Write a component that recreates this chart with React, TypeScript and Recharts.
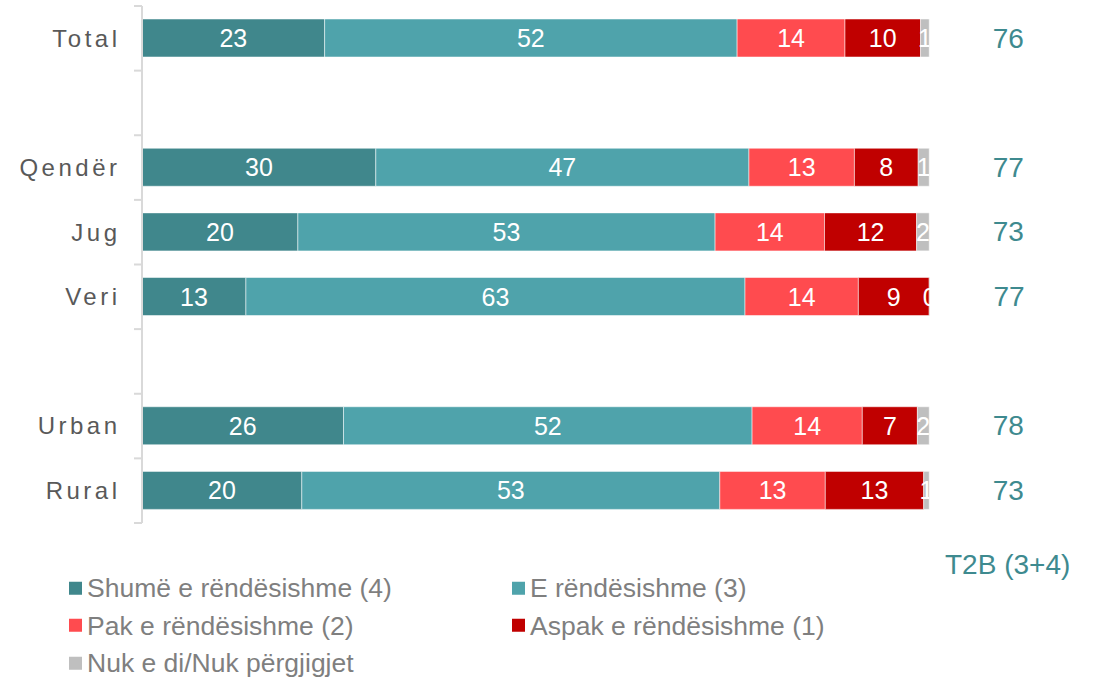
import React from "react";
import { BarChart, Bar, XAxis, YAxis, LabelList } from "recharts";

const categories = ["Total", " ", "Qendër", "Jug", "Veri", "  ", "Urban", "Rural"];
const shume = [23.2, null, 29.7, 19.8, 13.2, null, 25.6, 20.3];
const eRend = [52.4, null, 47.4, 53.0, 63.4, null, 51.9, 53.1];
const pak = [13.7, null, 13.4, 13.9, 14.4, null, 14.0, 13.4];
const aspak = [9.6, null, 8.1, 11.7, 9.0, null, 7.0, 12.5];
const nukDi = [1.1, null, 1.4, 1.6, 0.1, null, 1.5, 0.7];
const t2b = [76, null, 77, 73, 77, null, 78, 73];

const seriesNames = [
  "Shumë e rëndësishme (4)",
  "E rëndësishme (3)",
  "Pak e rëndësishme (2)",
  "Aspak e rëndësishme (1)",
  "Nuk e di/Nuk përgjigjet",
];
const seriesKeys = ["shume", "eRend", "pak", "aspak", "nukDi"];
const colors = ["#40878c", "#4fa3ab", "#ff4b4f", "#c00000", "#bfbfbf"];

const data = categories.map((name, i) => ({
  name,
  shume: shume[i],
  eRend: eRend[i],
  pak: pak[i],
  aspak: aspak[i],
  nukDi: nukDi[i],
  t2b: t2b[i],
}));

const FONT = "'Liberation Sans', Arial, sans-serif";
const W = 1101;
const H = 678;
const MARGIN = { top: 6, right: 171, bottom: 155, left: 0 };
const BAND = (H - MARGIN.top - MARGIN.bottom) / categories.length;

function CatTick(props: any) {
  const { x, y, payload, index } = props;
  const last = index === categories.length - 1;
  return (
    <g>
      <line x1={x - 8} x2={x} y1={y - BAND / 2} y2={y - BAND / 2} stroke="#d9d9d9" strokeWidth={2} />
      {last && (
        <line x1={x - 8} x2={x} y1={y + BAND / 2} y2={y + BAND / 2} stroke="#d9d9d9" strokeWidth={2} />
      )}
      <text
        x={x}
        y={y}
        dx={-21.5}
        dy="0.35em"
        textAnchor="end"
        fill="#595959"
        fontSize={24}
        letterSpacing={3.5}
        fontFamily={FONT}
      >
        {payload.value}
      </text>
    </g>
  );
}

const valueLabel = (clip: boolean) => (props: any) => {
  const { x, y, width, height, value, index } = props;
  if (value == null || isNaN(x)) return null;
  const txt = (
    <text
      x={x + width / 2}
      y={y + height / 2}
      textAnchor="middle"
      dominantBaseline="central"
      fill="#ffffff"
      fontSize={25}
      fontFamily={FONT}
    >
      {Math.round(value)}
    </text>
  );
  if (!clip) return txt;
  const id = `nk-clip-${index}`;
  return (
    <g>
      <defs>
        <clipPath id={id}>
          <rect x={x - 30} y={y} width={width + 30} height={height} />
        </clipPath>
      </defs>
      <g clipPath={`url(#${id})`}>{txt}</g>
    </g>
  );
};

function T2bLabel(props: any) {
  const { x, y, width, height, value } = props;
  if (value == null || isNaN(x)) return null;
  return (
    <text
      x={x + width + 79}
      y={y + height / 2}
      textAnchor="middle"
      dominantBaseline="central"
      fill="#3e8a8f"
      fontSize={28}
      fontFamily={FONT}
    >
      {value}
    </text>
  );
}

export default function App() {
  return (
    <div
      style={{
        position: "absolute",
        left: 0,
        top: 0,
        width: W,
        height: H,
        background: "#ffffff",
        fontFamily: FONT,
      }}
    >
      <BarChart
        width={W}
        height={H}
        data={data}
        layout="vertical"
        margin={MARGIN}
        barSize={38}
      >
        <XAxis type="number" domain={[0, 100]} hide />
        <YAxis
          type="category"
          dataKey="name"
          width={142}
          interval={0}
          axisLine={{ stroke: "#d9d9d9", strokeWidth: 2 }}
          tickLine={false}
          tickSize={0}
          tickMargin={0}
          tick={<CatTick />}
        />
        {seriesKeys.map((k, i) => (
          <Bar
            key={k}
            dataKey={k}
            name={seriesNames[i]}
            stackId="a"
            fill={colors[i]}
            stroke="#ffffff"
            strokeOpacity={0.5}
            strokeWidth={1}
            isAnimationActive={false}
          >
            <LabelList dataKey={k} content={valueLabel(i === 4)} />
            {i === 4 && <LabelList dataKey="t2b" content={<T2bLabel />} />}
          </Bar>
        ))}
      </BarChart>

      <div
        style={{
          position: "absolute",
          left: 945,
          top: 565,
          transform: "translateY(-50%)",
          fontSize: 28,
          color: "#3e8a8f",
          lineHeight: 1,
          whiteSpace: "nowrap",
        }}
      >
        T2B (3+4)
      </div>

      {seriesNames.map((n, i) => (
        <div
          key={n}
          style={{
            position: "absolute",
            left: i % 2 === 0 ? 69 : 512,
            top: 588 + Math.floor(i / 2) * 37.5,
            transform: "translateY(-50%)",
            display: "flex",
            alignItems: "center",
            fontSize: 26.5,
            color: "#7f7f7f",
            lineHeight: 1,
            whiteSpace: "nowrap",
          }}
        >
          <span
            style={{
              display: "inline-block",
              width: 13,
              height: 13,
              background: colors[i],
              marginRight: 5,
            }}
          />
          {n}
        </div>
      ))}
    </div>
  );
}
